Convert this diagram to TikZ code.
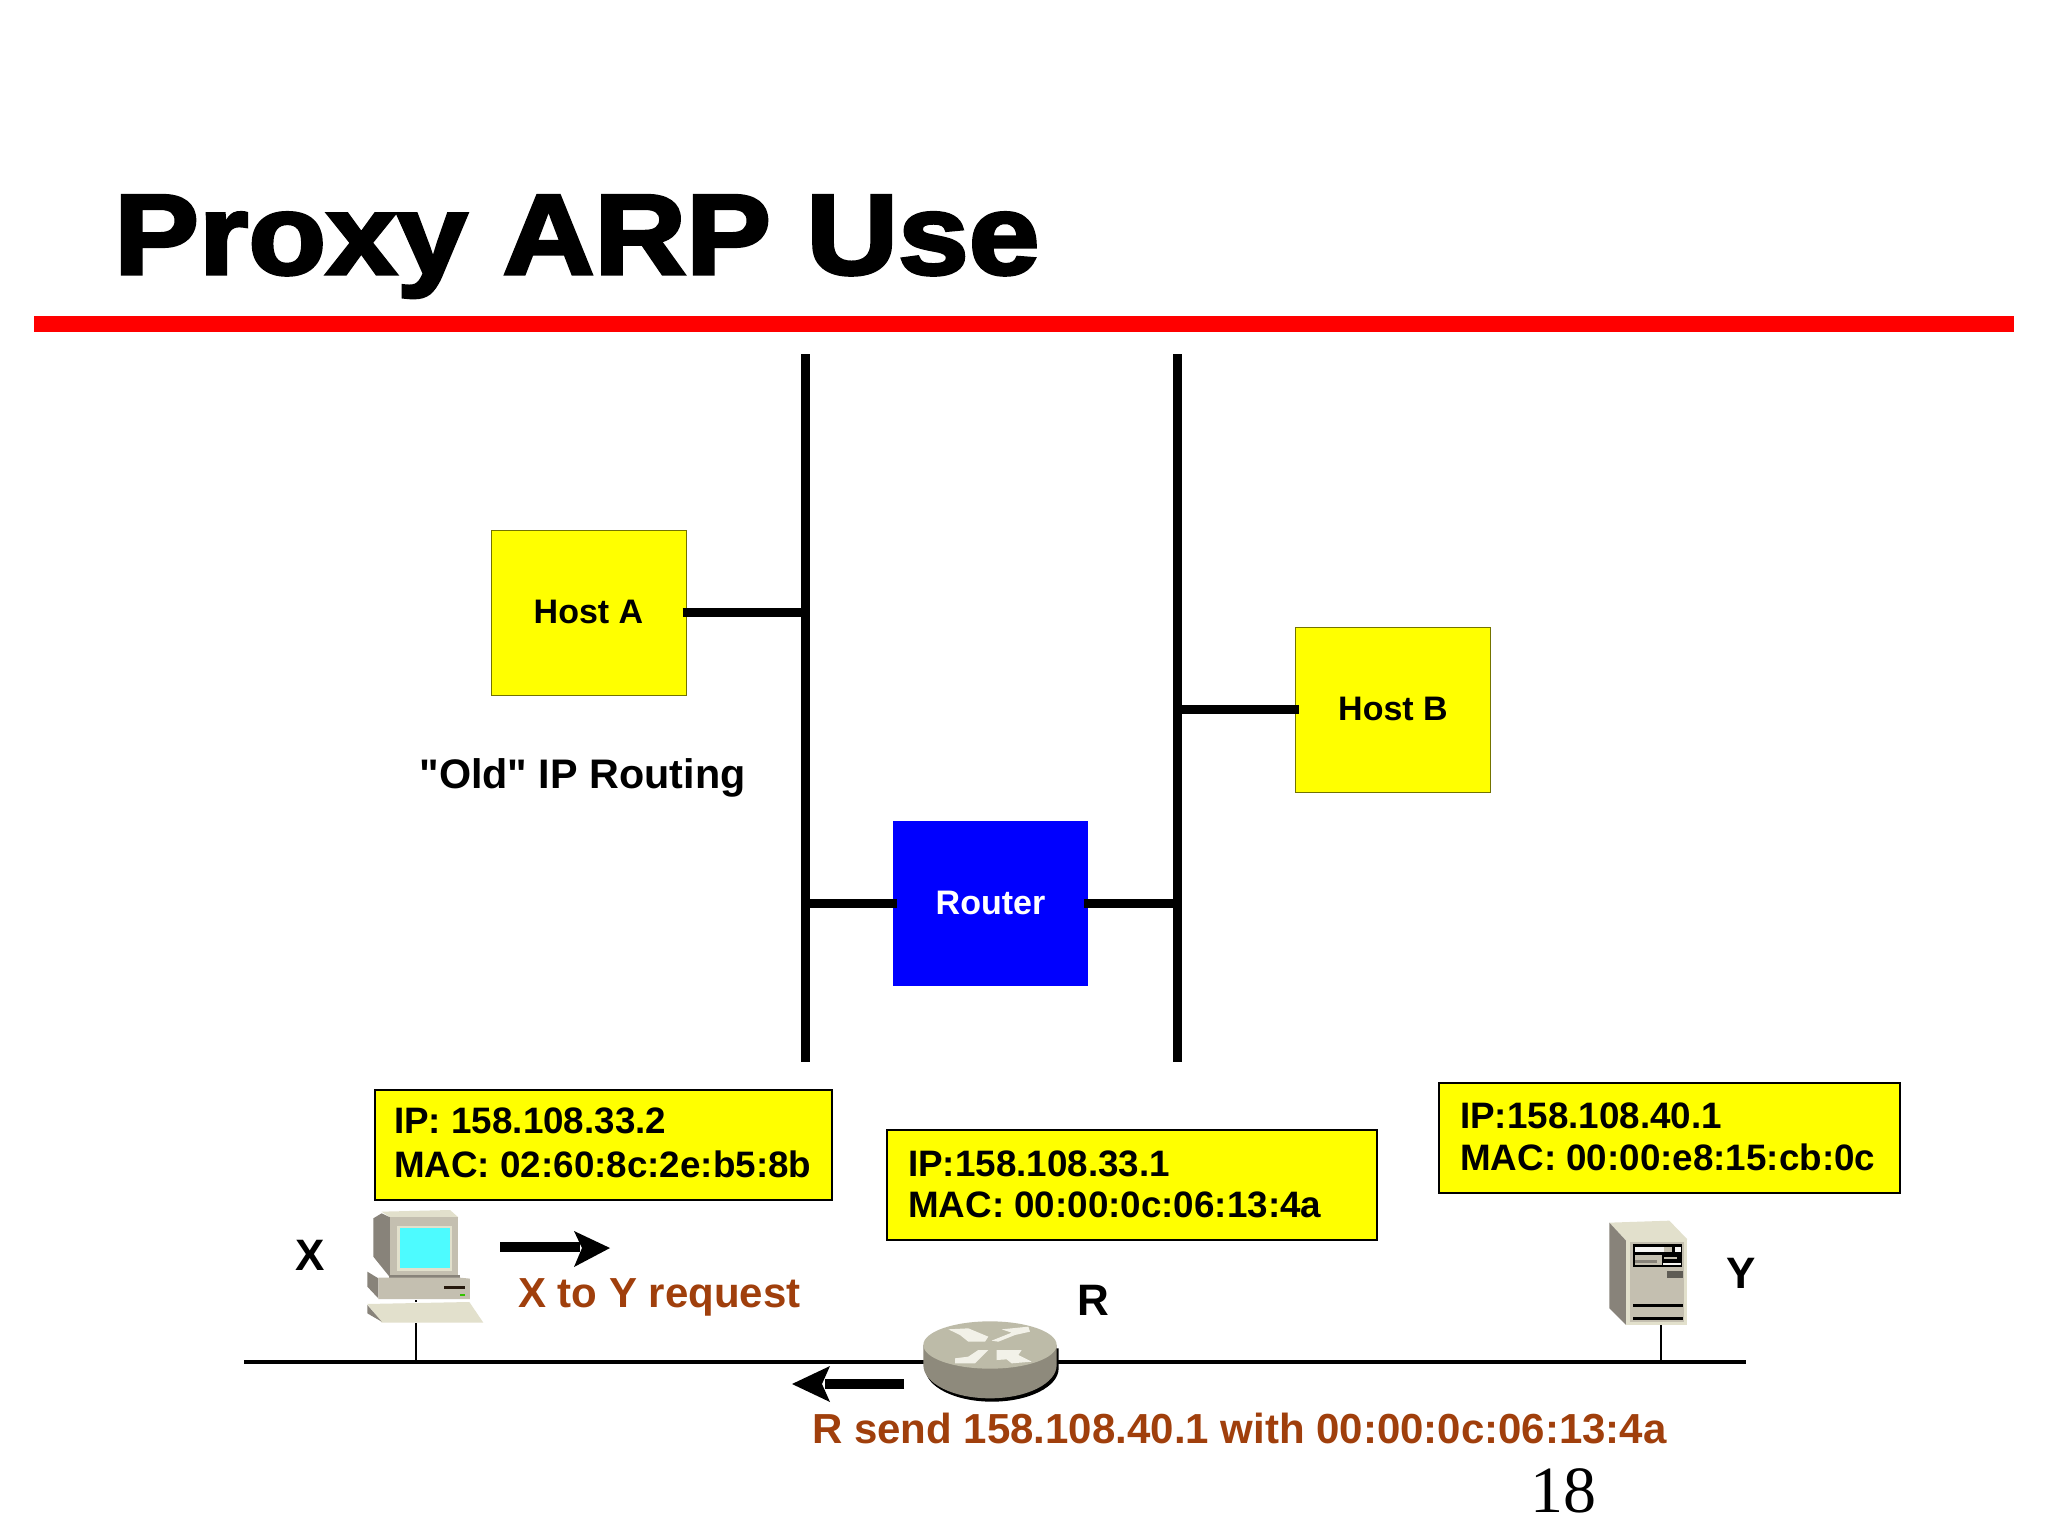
\documentclass[tikz,border=0pt]{standalone}
\usepackage{fontspec}
\setmainfont{Liberation Sans}
\newfontfamily\titlefont[FakeBold=3,FakeStretch=1.115]{Liberation Sans Bold}
\newfontfamily\numfont{Liberation Serif}
\newfontfamily\plainquote{Liberation Sans}
\definecolor{ybox}{HTML}{FFFF00}
\definecolor{rblue}{HTML}{0000FF}
\definecolor{brownred}{HTML}{A03F0C}
\definecolor{itop}{HTML}{E2E0CC}
\definecolor{ifront}{HTML}{C4BFB0}
\definecolor{iside}{HTML}{88837A}
\definecolor{icyan}{HTML}{4DFBFF}
\definecolor{rtop}{HTML}{BDBBA8}
\definecolor{rside}{HTML}{8E8A7C}
\definecolor{rarrow}{HTML}{F2F1E8}
\tikzset{
  hostbox/.style={draw=black!55!ybox,line width=1pt,fill=ybox,minimum width=195pt,minimum height=165pt,inner sep=0pt,font=\fontsize{34}{40}\selectfont\bfseries},
  routerbox/.style={fill=rblue,text=white,minimum width=195pt,minimum height=165pt,inner sep=0pt,font=\fontsize{34}{40}\selectfont\bfseries},
  infobox/.style={draw=black,line width=2.5pt,fill=ybox,inner sep=0pt},
  infotext/.style={anchor=base west,inner sep=0pt,font=\fontsize{36.8}{40}\selectfont\bfseries},
  iconlabel/.style={anchor=base,inner sep=0pt,font=\fontsize{44}{50}\selectfont\bfseries},
  msgtext/.style={anchor=base west,inner sep=0pt,text=brownred,font=\fontsize{42}{46}\selectfont\bfseries},
  thickbus/.style={line width=9pt,black},
  thinbus/.style={line width=4pt,black},
  droplink/.style={line width=1.6pt,black},
  icon/.style={x=0.3333pt,y=-0.3333pt}
}
\begin{document}
\begin{tikzpicture}[x=1pt,y=-1pt]
\useasboundingbox (0,0) rectangle (2048,1536);
\fill[white] (0,0) rectangle (2048,1536);

% title and rule
\node[anchor=base west,inner sep=0pt,font=\fontsize{114}{120}\titlefont] (title) at (114,274) {Proxy ARP Use};
\fill[red] (34,316) rectangle (2014,332);

% upper diagram
\coordinate (lt) at (805.5,354);
\coordinate (lb) at (805.5,1062);
\coordinate (rt) at (1177,354);
\coordinate (rb) at (1177,1062);
\draw[thickbus] (lt) -- (lb);
\draw[thickbus] (rt) -- (rb);
\node[hostbox,text depth=0pt] (hostA) at (588.5,612.5) {\raisebox{1.5pt}{Host A}};
\node[hostbox,text depth=0pt] (hostB) at (1393,709.5) {\raisebox{1.5pt}{Host B}};
\node[routerbox,text depth=0pt] (router) at (990.5,903.5) {\raisebox{1.5pt}{Router}};
\draw[thickbus] ([xshift=-4pt]hostA.east) -- (hostA.east -| lt);
\draw[thickbus] ([xshift=4pt]hostB.west) -- (hostB.west -| rt);
\draw[thickbus] ([xshift=4pt]router.west) -- (router.west -| lt);
\draw[thickbus] ([xshift=-4pt]router.east) -- (router.east -| rt);
\node[inner sep=0pt,font=\fontsize{41.3}{46}\plainquote\bfseries] (old) at (582.5,778) {"Old" IP Routing};

% info boxes
\node[infobox,minimum width=457pt,minimum height=110pt] (boxX) at (603.5,1145) {};
\node[infobox,minimum width=490pt,minimum height=110pt] (boxR) at (1132,1185) {};
\node[infobox,minimum width=461pt,minimum height=110pt] (boxY) at (1669.5,1138) {};
\node[infotext] (xip) at (394,1133) {IP: 158.108.33.2};
\node[infotext] (xmac) at (394,1177) {MAC: 02:60:8c:2e:b5:8b};
\node[infotext] (rip) at (908,1176) {IP:158.108.33.1};
\node[infotext] (rmac) at (908,1217) {MAC: 00:00:0c:06:13:4a};
\node[infotext] (yip) at (1460,1128) {IP:158.108.40.1};
\node[infotext] (ymac) at (1460,1170) {MAC: 00:00:e8:15:cb:0c};

% lower network
\coordinate (busL) at (244,1362);
\coordinate (busR) at (1746,1362);
\draw[thinbus] (busL) -- (busR);
\coordinate (xdrop) at (416,1323);
\coordinate (ydrop) at (1661,1325);
\draw[droplink] (xdrop) -- (xdrop |- busL);
\draw[droplink] (ydrop) -- (ydrop |- busL);

% computer X
\begin{scope}[shift={(350,1200)},icon]
  \fill[itop] (95,35) -- (300,30) -- (325,52) -- (120,52) -- cycle;
  \fill[iside] (70,55) -- (95,40) -- (120,52) -- (120,232) -- (70,170) -- cycle;
  \fill[ifront] (120,52) rectangle (325,225);
  \fill[itop] (140,78) rectangle (305,214);
  \fill[icyan] (150,85) rectangle (300,205);
  \fill[iside] (118,225) rectangle (330,233);
  \fill[iside] (52,215) -- (85,235) -- (85,295) -- (52,260) -- cycle;
  \fill[ifront] (85,233) -- (330,233) -- (360,236) -- (360,297) -- (85,297) -- cycle;
  \fill[black!80!brown] (282,259) rectangle (345,266);
  \fill[green!70!black!80!yellow] (330,283) rectangle (345,289);
  \fill[black] (195,299) rectangle (202,306);
  \fill[itop] (52,312) -- (358,306) -- (400,368) -- (95,368) -- cycle;
  \fill[iside] (52,315) -- (95,365) -- (52,340) -- cycle;
\end{scope}

% router R
\begin{scope}[shift={(900,1300)},icon]
  \fill[black] (76,145) -- (76,205) arc[start angle=180,end angle=0,x radius=200,y radius=100] -- (476,145) -- cycle;
  \fill[rside] (70,135) -- (70,195) arc[start angle=180,end angle=0,x radius=200,y radius=100] -- (470,135) -- cycle;
  \fill[rtop] (270,135) ellipse[x radius=200,y radius=71];
  \fill[rarrow] (145,88) -- (205,85) -- (265,110) -- (255,125) -- (205,125) -- (180,105) -- cycle;
  \fill[rarrow] (275,122) -- (335,98) -- (305,88) -- (385,80) -- (390,95) -- (345,105) -- (295,125) -- cycle;
  \fill[rarrow] (165,175) -- (205,170) -- (235,150) -- (265,150) -- (225,190) -- (165,190) -- cycle;
  \fill[rarrow] (290,150) -- (365,150) -- (355,165) -- (395,185) -- (335,190) -- (320,178) -- (290,180) -- cycle;
\end{scope}

% server Y
\begin{scope}[shift={(1590,1200)},icon]
  \fill[itop] (58,68) -- (238,62) -- (292,118) -- (108,122) -- cycle;
  \fill[iside] (58,68) -- (108,122) -- (108,375) -- (58,325) -- cycle;
  \fill[itop] (108,118) rectangle (292,375);
  \fill[ifront] (120,127) rectangle (283,367);
  \fill[black] (130,133) rectangle (277,200);
  \fill[white!85!ifront] (136,142) rectangle (222,156);
  \fill[ifront] (222,142) rectangle (246,156);
  \fill[white!85!ifront] (254,140) rectangle (272,156);
  \fill[ifront] (136,166) rectangle (215,194);
  \fill[iside] (136,180) rectangle (200,188);
  \fill[ifront] (222,171) rectangle (262,178);
  \fill[white!85!ifront] (218,188) rectangle (272,196);
  \fill[iside!70!black] (230,212) rectangle (278,235);
  \fill[black] (130,313) rectangle (280,321);
  \fill[black] (130,352) rectangle (280,360);
\end{scope}

% arrows
\coordinate (a1s) at (500,1247);
\coordinate (a1e) at (580,1247);
\coordinate (a2s) at (904,1384);
\coordinate (a2e) at (825,1384);
\draw[line width=10pt,black] (a1s) -- (a1e);
\fill[black] (610,1248) -- (574,1231) -- (582,1248) -- (574,1267) -- cycle;
\draw[line width=10pt,black] (a2s) -- (a2e);
\fill[black] (792,1384) -- (830,1366) -- (822,1384) -- (830,1402) -- cycle;

% labels
\node[iconlabel] (lx) at (310,1270) {X};
\node[iconlabel] (ly) at (1741,1288) {Y};
\node[iconlabel] (lr) at (1093,1315) {R};
\node[msgtext] (m1) at (518,1307) {X to Y request};
\node[msgtext] (m2) at (812,1443) {R send 158.108.40.1 with 00:00:0c:06:13:4a};
\node[anchor=base,inner sep=0pt,font=\fontsize{66}{70}\numfont] (page) at (1563,1512) {18};
\end{tikzpicture}
\end{document}
